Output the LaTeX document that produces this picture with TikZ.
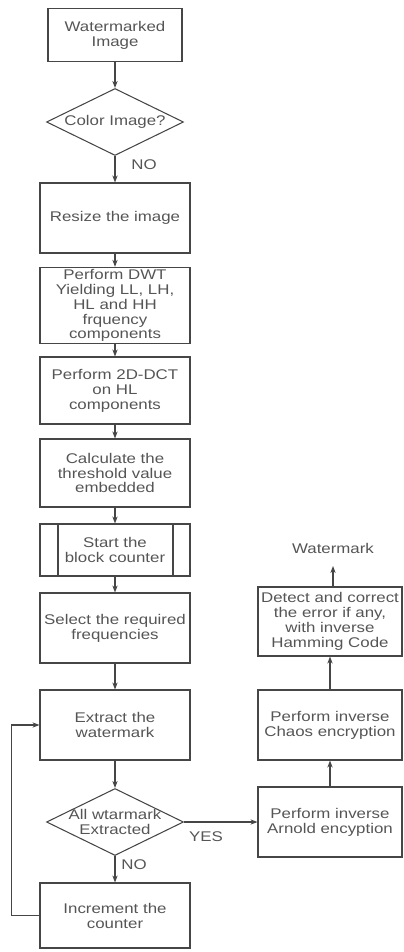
\documentclass[tikz,border=0pt]{standalone}
\usepackage{fontspec}
\setmainfont[FakeStretch=1.2]{Liberation Sans}
\usetikzlibrary{shapes.geometric,arrows.meta}
\definecolor{lineg}{RGB}{70,70,70}
\definecolor{textg}{RGB}{85,85,85}

\begin{document}
\begin{tikzpicture}[x=0.02cm,y=-0.02cm,
    every node/.style={font=\fontsize{8}{8.5}\selectfont,text=textg},
    procbox/.style={rectangle,draw=lineg,semithick,align=center,minimum width=3cm,inner sep=1pt},
    decision/.style={diamond,draw=lineg,semithick,align=center,aspect=2,inner sep=-1.7pt,minimum width=2.74cm,minimum height=1.34cm},
    flow/.style={draw=lineg,semithick,-{Stealth[length=4pt,width=3pt]}}]
        \useasboundingbox (0,0) rectangle (404,952);
        % main column
        \node[procbox,minimum width=2.68cm,minimum height=1.06cm] (wimg) at (115,35) {Watermarked\\Image};
        \node[decision] (color) at (115,122) {Color Image?};
        \node[procbox,minimum height=1.4cm] (resize) at (115,218) {Resize the image};
        \node[procbox,minimum height=1.46cm] (dwt) at (115,305.5) {Perform DWT\\Yielding LL, LH,\\HL and HH\\frquency\\components};
        \node[procbox,minimum height=1.34cm] (dct) at (115,390.5) {Perform 2D-DCT\\on HL\\components};
        \node[procbox,minimum height=1.36cm] (calc) at (115,473) {Calculate the\\threshold value\\embedded};
        \node[procbox,minimum height=1.04cm] (start) at (115,550) {Start the\\block counter};
        \draw[lineg,semithick] ([xshift=0.37cm]start.north west) -- ([xshift=0.37cm]start.south west);
        \draw[lineg,semithick] ([xshift=-0.35cm]start.north east) -- ([xshift=-0.35cm]start.south east);
        \node[procbox,minimum height=1.4cm] (select) at (115,628) {Select the required\\frequencies};
        \node[procbox,minimum height=1.4cm] (extract) at (115,725) {Extract the\\watermark};
        \node[decision] (allwm) at (115,822) {All wtarmark\\Extracted};
        \node[procbox,minimum height=1.3cm] (incr) at (115,915.5) {Increment the\\counter};
        % right column
        \node[procbox,minimum width=2.88cm,minimum height=1.4cm] (arnold) at (330,822) {Perform inverse\\Arnold encyption};
        \node[procbox,minimum width=2.88cm,minimum height=1.4cm] (chaos) at (330,725) {Perform inverse\\Chaos encryption};
        \node[procbox,minimum width=2.88cm,minimum height=1.38cm] (detect) at (330,621.5) {Detect and correct\\the error if any,\\with inverse\\Hamming Code};
        \node (wmout) at (333,548) {Watermark};
        \coordinate (wmtip) at (333,566);
        % connectors
        \draw[flow] (wimg) -- (color);
        \draw[flow] (color) -- (resize);
        \draw[flow] (resize) -- (dwt);
        \draw[flow] (dwt) -- (dct);
        \draw[flow] (dct) -- (calc);
        \draw[flow] (calc) -- (start);
        \draw[flow] (start) -- (select);
        \draw[flow] (select) -- (extract);
        \draw[flow] (extract) -- (allwm);
        \draw[flow] (allwm) -- (incr);
        \draw[flow] (incr.west) -- ++(-28,0) |- (extract.west);
        \draw[flow] (allwm.east) -- (arnold.west);
        \draw[flow] (arnold) -- (chaos);
        \draw[flow] (chaos) -- (detect);
        \draw[flow] (detect.north -| wmtip) -- (wmtip);
        % labels
        \node (no1) at (144,165) {NO};
        \node (yes) at (206,837) {YES};
        \node (no2) at (134,865) {NO};
    \end{tikzpicture}
\end{document}
